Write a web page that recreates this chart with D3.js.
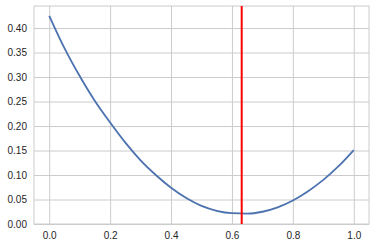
<!DOCTYPE html>
<html>
<head>
<meta charset="utf-8">
<script src="https://cdn.jsdelivr.net/npm/d3@7"></script>
<style>
  body { margin: 0; background: #fff; }
  svg { display: block; }
  .tick text { font-family: "Liberation Sans", Arial, sans-serif; font-size: 10px; fill: #262626; }
</style>
</head>
<body>
<svg id="chart"></svg>
<script>
// curve samples
const xs = [0, 0.05, 0.1, 0.15, 0.2, 0.25, 0.3, 0.35, 0.4, 0.45, 0.5,
            0.55, 0.6, 0.65, 0.7, 0.75, 0.8, 0.85, 0.9, 0.95, 1.0];
const ys = [0.425, 0.359, 0.302, 0.251, 0.207, 0.166, 0.130, 0.100, 0.074, 0.053, 0.037,
            0.027, 0.022, 0.021, 0.025, 0.034, 0.048, 0.067, 0.090, 0.118, 0.151];
const markerX = 0.632;
const xTicks = [0, 0.2, 0.4, 0.6, 0.8, 1.0];
const yTicks = [0, 0.05, 0.1, 0.15, 0.2, 0.25, 0.3, 0.35, 0.4];

const width = 375;
const height = 247;
const margin = { top: 6, right: 6, bottom: 23, left: 34 };

const svg = d3.select('#chart')
  .attr('width', width)
  .attr('height', height);

const xScale = d3.scaleLinear()
  .domain([-0.05, 1.05])
  .range([margin.left, width - margin.right]);

const yScale = d3.scaleLinear()
  .domain([0, 0.445])
  .range([height - margin.bottom, margin.top]);

// grid
const xAxis = d3.axisBottom(xScale)
  .tickValues(xTicks)
  .tickFormat(d3.format('.1f'))
  .tickSize(-(height - margin.top - margin.bottom))
  .tickPadding(8);

const yAxis = d3.axisLeft(yScale)
  .tickValues(yTicks)
  .tickFormat(d3.format('.2f'))
  .tickSize(-(width - margin.left - margin.right))
  .tickPadding(7);

const gx = svg.append('g')
  .attr('transform', `translate(0, ${height - margin.bottom})`)
  .call(xAxis);

const gy = svg.append('g')
  .attr('transform', `translate(${margin.left}, 0)`)
  .call(yAxis);

[gx, gy].forEach((g) => {
  g.select('.domain').remove();
  g.selectAll('.tick line').attr('stroke', '#cccccc').attr('stroke-width', 1);
});

// frame
svg.append('rect')
  .attr('x', margin.left)
  .attr('y', margin.top)
  .attr('width', width - margin.left - margin.right)
  .attr('height', height - margin.top - margin.bottom)
  .attr('fill', 'none')
  .attr('stroke', '#cccccc')
  .attr('stroke-width', 1);

// curve
const line = d3.line()
  .x((d, i) => xScale(xs[i]))
  .y((d) => yScale(d))
  .curve(d3.curveMonotoneX);

svg.append('path')
  .datum(ys)
  .attr('d', line)
  .attr('fill', 'none')
  .attr('stroke', '#4c72b0')
  .attr('stroke-width', 1.8);

// vertical marker
svg.append('line')
  .attr('x1', xScale(markerX))
  .attr('x2', xScale(markerX))
  .attr('y1', margin.top)
  .attr('y2', height - margin.bottom)
  .attr('stroke', 'red')
  .attr('stroke-width', 2);
</script>
</body>
</html>
